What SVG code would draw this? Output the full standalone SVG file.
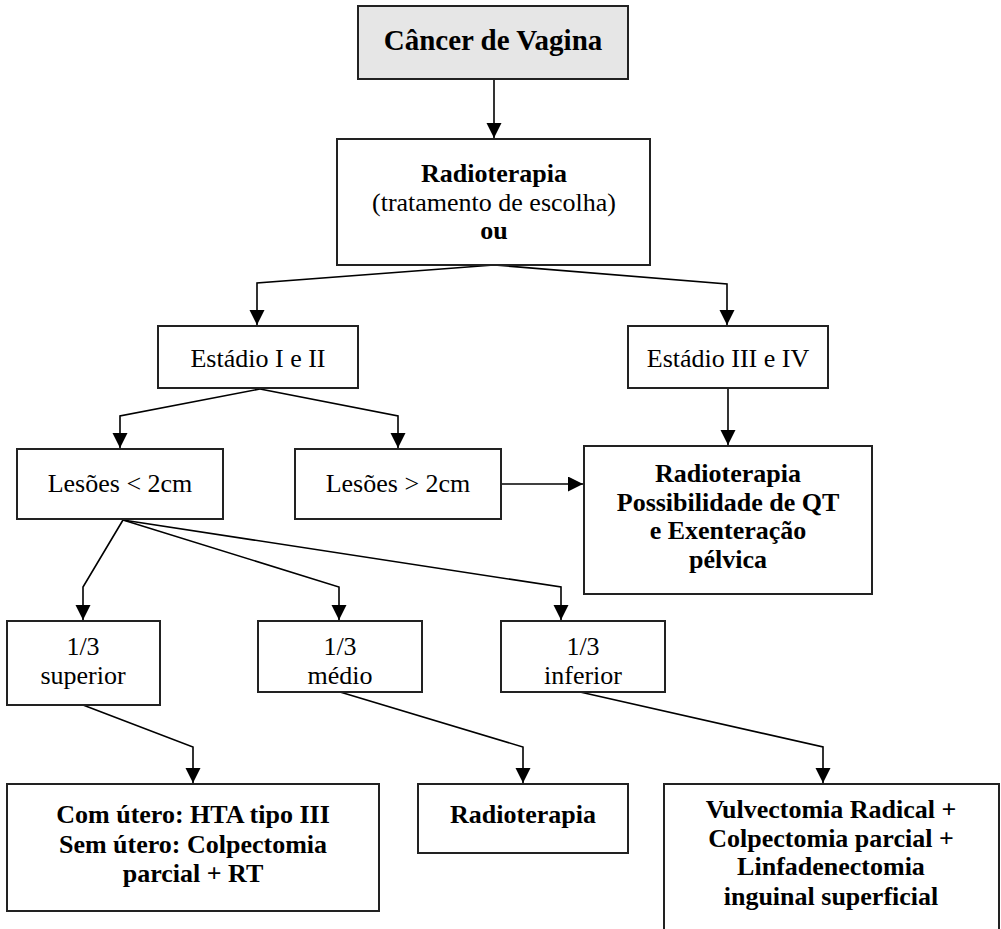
<svg xmlns="http://www.w3.org/2000/svg" width="1001" height="929" viewBox="0 0 1001 929">
  <defs>
    <marker id="arrow" markerUnits="userSpaceOnUse" markerWidth="16" markerHeight="16" refX="15" refY="7.5" orient="auto">
      <path d="M0,0 L15,7.5 L0,15 z" fill="#000"/>
    </marker>
    <style>
      .box { fill: #fff; stroke: #222; stroke-width: 2; }
      .root { fill: #e6e6e6; stroke: #222; stroke-width: 2; }
      .edge { fill: none; stroke: #000; stroke-width: 1.6; marker-end: url(#arrow); }
      text { font-family: "Liberation Serif", "Times New Roman", serif; font-size: 26px; fill: #000; text-anchor: middle; }
      .b { font-weight: bold; }
      .title { font-size: 29px; font-weight: bold; }
    </style>
  </defs>
  <rect width="1001" height="929" fill="#fff"/>

  <!-- connectors -->
  <g id="connectors">
    <path class="edge" d="M494,79 L494,138"/>
    <path class="edge" d="M494,265 L257,283 L257,325"/>
    <path class="edge" d="M494,265 L727,284 L727,325"/>
    <path class="edge" d="M260,389 L120,416 L120,448"/>
    <path class="edge" d="M260,389 L398,416 L398,448"/>
    <path class="edge" d="M728,388 L728,445"/>
    <path class="edge" d="M500,484 L583,484"/>
    <path class="edge" d="M123,520 L83,587 L83,620"/>
    <path class="edge" d="M123,520 L339,587 L339,620"/>
    <path class="edge" d="M123,520 L561,587 L561,620"/>
    <path class="edge" d="M83,705 L193,747 L193,783"/>
    <path class="edge" d="M340,692 L523,747 L523,783"/>
    <path class="edge" d="M580,692 L823,747 L823,783"/>
  </g>

  <g id="cancer-vagina">
    <rect class="root" x="358" y="6" width="270" height="73"/>
    <text class="title" x="493" y="50">Câncer de Vagina</text>
  </g>

  <g id="radioterapia-inicial">
    <rect class="box" x="337" y="139" width="313" height="126"/>
    <text class="b" x="494" y="182">Radioterapia</text>
    <text x="494" y="211">(tratamento de escolha)</text>
    <text class="b" x="494" y="239">ou</text>
  </g>

  <g id="estadio-1-2">
    <rect class="box" x="158" y="326" width="200" height="62"/>
    <text x="258" y="367">Estádio I e II</text>
  </g>

  <g id="estadio-3-4">
    <rect class="box" x="628" y="326" width="200" height="62"/>
    <text x="728" y="367">Estádio III e IV</text>
  </g>

  <g id="lesoes-menor">
    <rect class="box" x="17" y="449" width="206" height="70"/>
    <text x="120" y="492">Lesões &lt; 2cm</text>
  </g>

  <g id="lesoes-maior">
    <rect class="box" x="295" y="449" width="206" height="70"/>
    <text x="398" y="492">Lesões &gt; 2cm</text>
  </g>

  <g id="radioterapia-qt">
    <rect class="box" x="584" y="446" width="288" height="148"/>
    <text class="b" x="728" y="482">Radioterapia</text>
    <text class="b" x="728" y="511">Possibilidade de QT</text>
    <text class="b" x="728" y="539">e Exenteração</text>
    <text class="b" x="728" y="568">pélvica</text>
  </g>

  <g id="terco-superior">
    <rect class="box" x="7" y="621" width="153" height="84"/>
    <text x="83" y="655">1/3</text>
    <text x="83" y="684">superior</text>
  </g>

  <g id="terco-medio">
    <rect class="box" x="258" y="621" width="164" height="71"/>
    <text x="340" y="655">1/3</text>
    <text x="340" y="684">médio</text>
  </g>

  <g id="terco-inferior">
    <rect class="box" x="501" y="621" width="164" height="71"/>
    <text x="583" y="655">1/3</text>
    <text x="583" y="684">inferior</text>
  </g>

  <g id="tratamento-superior">
    <rect class="box" x="7" y="784" width="372" height="127"/>
    <text class="b" x="193" y="823">Com útero: HTA tipo III</text>
    <text class="b" x="193" y="853">Sem útero: Colpectomia</text>
    <text class="b" x="193" y="882">parcial + RT</text>
  </g>

  <g id="tratamento-medio">
    <rect class="box" x="418" y="784" width="210" height="69"/>
    <text class="b" x="523" y="823">Radioterapia</text>
  </g>

  <g id="tratamento-inferior">
    <rect class="box" x="664" y="784" width="335" height="160"/>
    <text class="b" x="831" y="818">Vulvectomia Radical +</text>
    <text class="b" x="831" y="847">Colpectomia parcial +</text>
    <text class="b" x="831" y="875">Linfadenectomia</text>
    <text class="b" x="831" y="905">inguinal superficial</text>
  </g>
</svg>
